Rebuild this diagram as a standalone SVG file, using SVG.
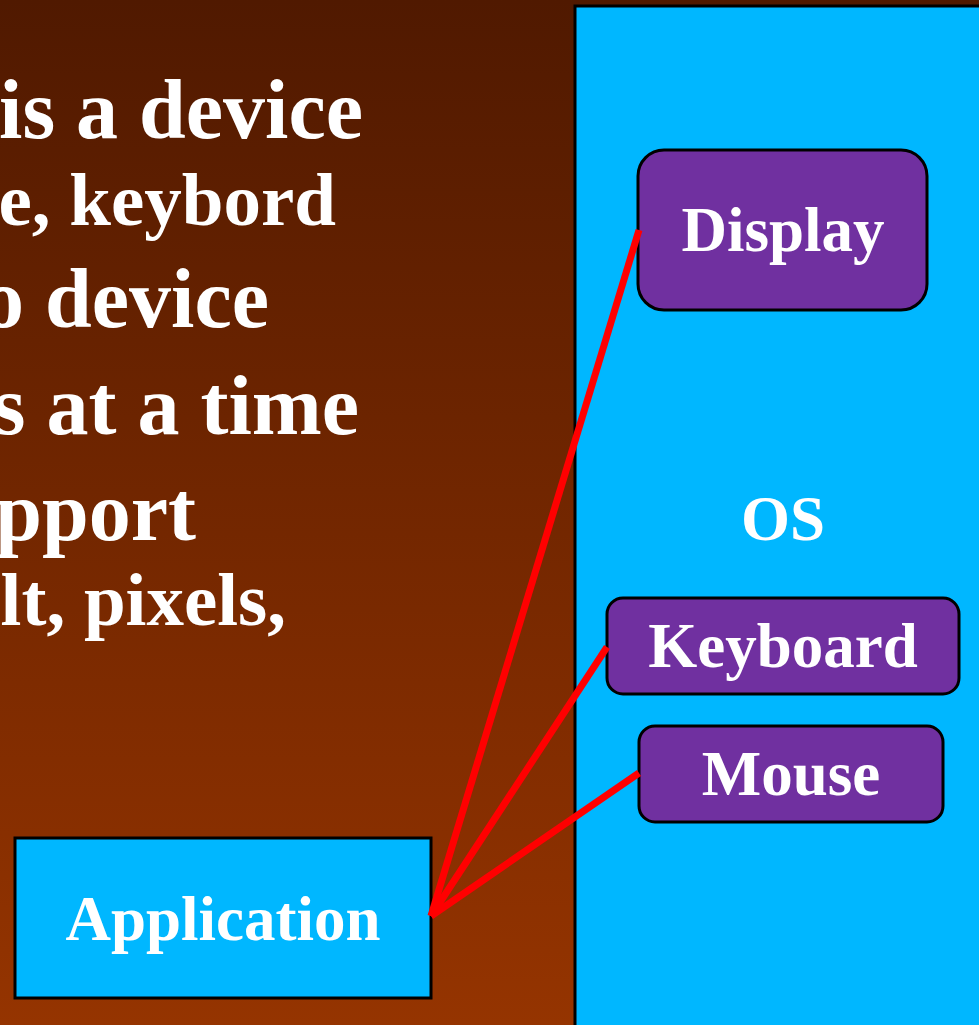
<svg xmlns="http://www.w3.org/2000/svg" width="979" height="1025" viewBox="0 0 979 1025">
  <defs>
    <linearGradient id="bg" x1="0" y1="0" x2="0" y2="1">
      <stop offset="0" stop-color="#501900"/>
      <stop offset="1" stop-color="#953400"/>
    </linearGradient>
  </defs>
  <style>
    text { font-family: "Liberation Serif", "Times New Roman", serif; font-weight: bold; fill: #ffffff; }
    .big { font-size: 84px; }
    .sub { font-size: 75px; }
    .lbl { font-size: 63px; text-anchor: middle; }
    .dev { fill: #7030a0; stroke: #000000; stroke-width: 3; }
    .box { fill: #00b7ff; stroke: #000000; stroke-width: 3; }
    .link { stroke: #ff0000; stroke-width: 7; fill: none; }
  </style>

  <!-- slide background -->
  <rect x="0" y="0" width="979" height="1025" fill="url(#bg)"/>

  <!-- bullet text, running off the left edge -->
  <g id="bullets">
    <text class="big" x="363" y="138" text-anchor="end">is a device</text>
    <text class="sub" x="336" y="225" text-anchor="end">e, keybord</text>
    <text class="big" x="269" y="327" text-anchor="end">o device</text>
    <text class="big" x="359" y="434" text-anchor="end">s at a time</text>
    <text class="big" x="196" y="540" text-anchor="end">pport</text>
    <text class="sub" x="286" y="625" text-anchor="end">lt, pixels,</text>
  </g>

  <!-- operating system panel -->
  <g id="os">
    <rect class="box" x="575" y="6" width="420" height="1040"/>
    <text class="lbl" x="783" y="540">OS</text>
  </g>

  <g id="display">
    <rect class="dev" x="638" y="150" width="289" height="160" rx="26"/>
    <text class="lbl" x="783" y="251">Display</text>
  </g>

  <g id="keyboard">
    <rect class="dev" x="607" y="598" width="352" height="96" rx="16"/>
    <text class="lbl" x="783" y="667">Keyboard</text>
  </g>

  <g id="mouse">
    <rect class="dev" x="639" y="726" width="304" height="96" rx="16"/>
    <text class="lbl" x="791" y="795">Mouse</text>
  </g>

  <g id="application">
    <rect class="box" x="15" y="838" width="416" height="160"/>
    <text class="lbl" x="223" y="940">Application</text>
  </g>

  <!-- links from the application to each device -->
  <g id="connectors">
    <line class="link" x1="431" y1="916" x2="639" y2="230"/>
    <line class="link" x1="431" y1="916" x2="607" y2="647"/>
    <line class="link" x1="431" y1="916" x2="639" y2="773"/>
  </g>
</svg>
